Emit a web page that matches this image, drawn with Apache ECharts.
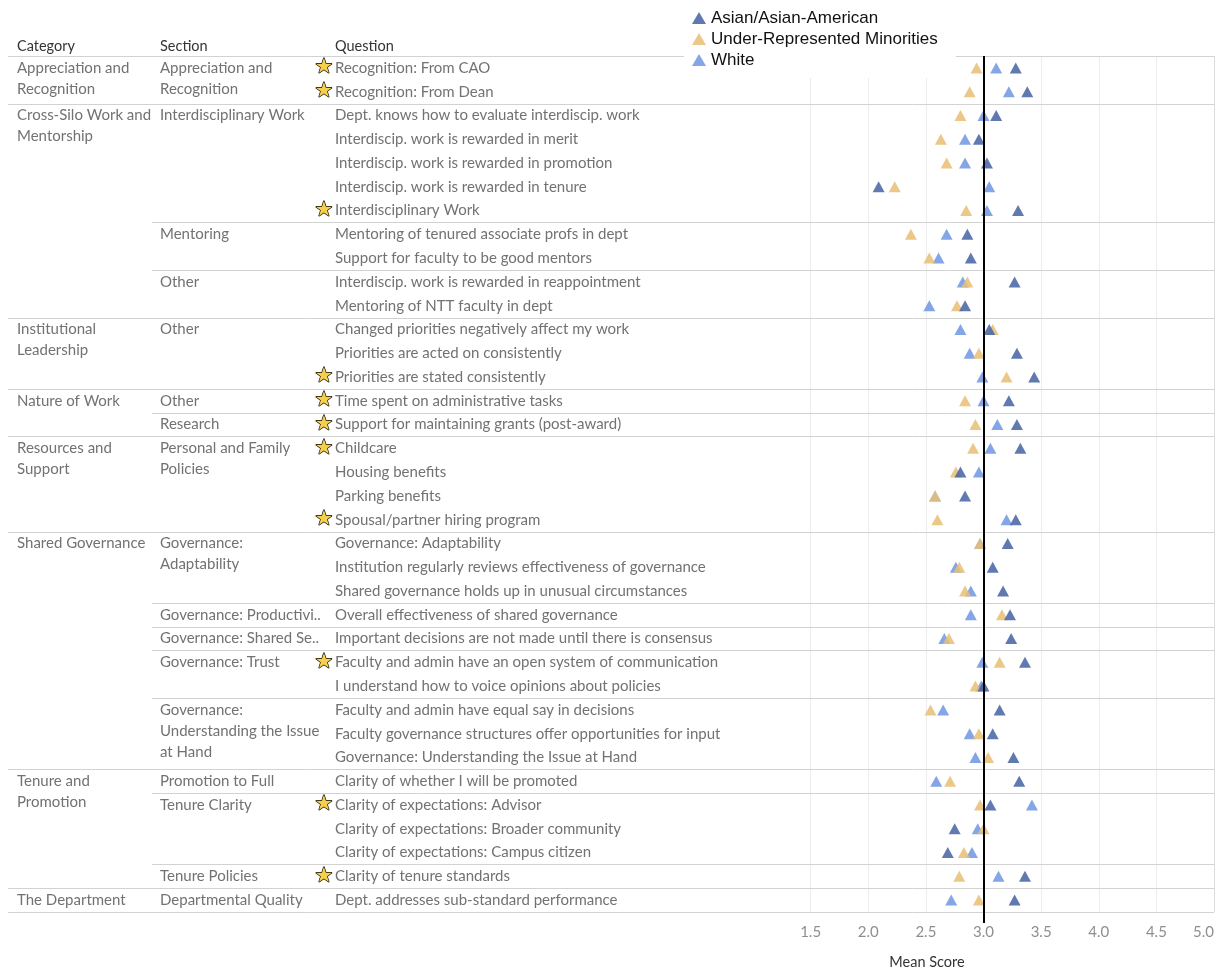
<!DOCTYPE html>
<html><head><meta charset="utf-8">
<script src="https://cdn.jsdelivr.net/npm/echarts@6/dist/echarts.min.js"></script>
<style>html,body{margin:0;padding:0;background:#fff}#c{width:1221px;height:969px}</style>
</head><body><div id="c"></div>
<script>
const questions = [
  "Recognition: From CAO",
  "Recognition: From Dean",
  "Dept. knows how to evaluate interdiscip. work",
  "Interdiscip. work is rewarded in merit",
  "Interdiscip. work is rewarded in promotion",
  "Interdiscip. work is rewarded in tenure",
  "Interdisciplinary Work",
  "Mentoring of tenured associate profs in dept",
  "Support for faculty to be good mentors",
  "Interdiscip. work is rewarded in reappointment",
  "Mentoring of NTT faculty in dept",
  "Changed priorities negatively affect my work",
  "Priorities are acted on consistently",
  "Priorities are stated consistently",
  "Time spent on administrative tasks",
  "Support for maintaining grants (post-award)",
  "Childcare",
  "Housing benefits",
  "Parking benefits",
  "Spousal/partner hiring program",
  "Governance: Adaptability",
  "Institution regularly reviews effectiveness of governance",
  "Shared governance holds up in unusual circumstances",
  "Overall effectiveness of shared governance",
  "Important decisions are not made until there is consensus",
  "Faculty and admin have an open system of communication",
  "I understand how to voice opinions about policies",
  "Faculty and admin have equal say in decisions",
  "Faculty governance structures offer opportunities for input",
  "Governance: Understanding the Issue at Hand",
  "Clarity of whether I will be promoted",
  "Clarity of expectations: Advisor",
  "Clarity of expectations: Broader community",
  "Clarity of expectations: Campus citizen",
  "Clarity of tenure standards",
  "Dept. addresses sub-standard performance"
];
const starred = [1,1,0,0,0,0,1,0,0,0,0,0,0,1,1,1,1,0,0,1,0,0,0,0,0,1,0,0,0,0,0,1,0,0,1,0];
const asian = [3.28,3.38,3.11,2.96,3.03,2.09,3.30,2.86,2.89,3.27,2.84,3.05,3.29,3.44,3.22,3.29,3.32,2.80,2.84,3.28,3.21,3.08,3.17,3.23,3.24,3.36,3.00,3.14,3.08,3.26,3.31,3.06,2.75,2.69,3.36,3.27];
const urm   = [2.94,2.88,2.80,2.63,2.68,2.23,2.85,2.37,2.53,2.86,2.77,3.08,2.96,3.20,2.84,2.93,2.91,2.76,2.58,2.60,2.97,2.79,2.84,3.16,2.70,3.14,2.93,2.54,2.96,3.04,2.71,2.97,3.00,2.83,2.79,2.96];
const white = [3.11,3.22,3.00,2.84,2.84,3.05,3.03,2.68,2.61,2.82,2.53,2.80,2.88,2.99,3.00,3.12,3.06,2.96,2.58,3.20,2.97,2.76,2.89,2.89,2.66,2.99,2.98,2.65,2.88,2.93,2.59,3.42,2.95,2.90,3.13,2.72];
const categoryNames = ["Appreciation and\nRecognition","Cross-Silo Work and\nMentorship","Institutional\nLeadership","Nature of Work","Resources and\nSupport","Shared Governance","Tenure and\nPromotion","The Department"];
const categoryRows = [2,9,3,2,4,10,5,1];
const sectionNames = ["Appreciation and\nRecognition","Interdisciplinary Work","Mentoring","Other","Other","Other","Research","Personal and Family\nPolicies","Governance:\nAdaptability","Governance: Productivi..","Governance: Shared Se..","Governance: Trust","Governance:\nUnderstanding the Issue\nat Hand","Promotion to Full","Tenure Clarity","Tenure Policies","Departmental Quality"];
const sectionRows = [2,5,2,2,3,1,1,4,3,1,1,2,3,1,3,1,1];
const headers = ["Category","Section","Question"];
const seriesNames = ["Asian/Asian-American","Under-Represented Minorities","White"];
const axisMin = 1.0, axisMax = 5.0, axisStep = 0.5, firstShownTick = 1.5, refValue = 3.0;

const FONT = 'Lato';
const chart = echarts.init(document.getElementById('c'));
function tri(name, vals, color) {
  return {
    type: 'scatter', name: name,
    data: vals.map((v, i) => [v, i]),
    symbol: 'triangle', symbolSize: [12, 11],
    itemStyle: { color: color, opacity: 0.88 },
    emphasis: { disabled: true }
  };
}
chart.setOption({
  animation: false,
  grid: { left: 753, right: 7, top: 56, bottom: 57 },
  xAxis: {
    type: 'value', min: axisMin, max: axisMax, interval: axisStep,
    axisLine: { show: false }, axisTick: { show: false },
    splitLine: { show: true, showMinLine: false, showMaxLine: false, lineStyle: { color: '#ededed', width: 1 } },
    axisLabel: { formatter: v => v < firstShownTick ? '' : v.toFixed(1), color: '#8f8f8f', fontFamily: FONT, fontSize: 15, margin: 13, alignMaxLabel: 'right' }
  },
  yAxis: {
    type: 'category', data: questions, inverse: true,
    axisLine: { show: false }, axisTick: { show: false }, axisLabel: { show: false }, splitLine: { show: false }
  },
  legend: {
    data: seriesNames, orient: 'vertical', left: 684, top: 0,
    backgroundColor: '#ffffff', padding: [8, 18, 8, 8], itemGap: 1,
    itemWidth: 14, itemHeight: 12, icon: 'triangle', z: 20,
    textStyle: { fontFamily: 'Liberation Sans', fontSize: 17, color: '#111', lineHeight: 20 },
    selectedMode: false
  },
  series: [
    tri(seriesNames[2], white, '#739ae4'),
    tri(seriesNames[1], urm, '#e8c078'),
    tri(seriesNames[0], asian, '#4a68a6')
  ]
});

const yc = i => chart.convertToPixel({ yAxisIndex: 0 }, i);
const xp = v => chart.convertToPixel({ xAxisIndex: 0 }, v);
const rh = yc(1) - yc(0);
const topY = yc(0) - rh / 2;
const botY = yc(questions.length - 1) + rh / 2;
const rightX = xp(axisMax);
const gfx = [];
const txtColor = '#727272';
function hline(y, x0) {
  gfx.push({ type: 'line', z: 5, shape: { x1: x0, y1: Math.round(y) + 0.5, x2: rightX, y2: Math.round(y) + 0.5 }, style: { stroke: '#d2d2d2', lineWidth: 1 } });
}
function txt(x, y, s, color, valign, size) {
  gfx.push({ type: 'text', z: 6, x: x, y: y, style: { text: s, fill: color, font: (size || 15) + 'px ' + FONT, textVerticalAlign: valign, lineHeight: 21 } });
}
// headers
const colX = [17, 160, 335];
headers.forEach((h, k) => txt(colX[k], 46, h, '#333333', 'middle', 14.5));
hline(topY, 8);
hline(botY, 8);
// right border
gfx.push({ type: 'line', z: 5, shape: { x1: Math.round(rightX) + 0.5, y1: topY, x2: Math.round(rightX) + 0.5, y2: botY }, style: { stroke: '#dcdcdc', lineWidth: 1 } });
// categories
let r = 0;
const catStarts = new Set();
categoryNames.forEach((name, k) => {
  if (r > 0) { hline(yc(r) - rh / 2, 8); catStarts.add(r); }
  txt(colX[0], yc(r) - 10.5, name, txtColor, 'top');
  r += categoryRows[k];
});
// sections
r = 0;
sectionNames.forEach((name, k) => {
  if (r > 0 && !catStarts.has(r)) hline(yc(r) - rh / 2, 152);
  txt(colX[1], yc(r) - 10.5, name, txtColor, 'top');
  r += sectionRows[k];
});
// questions + stars
questions.forEach((q, i) => {
  txt(colX[2], yc(i), q, txtColor, 'middle');
  if (starred[i]) {
    gfx.push({ type: 'text', z: 7, x: 324, y: yc(i), style: { text: '\u2605', fill: '#f6cf4c', stroke: '#000', lineWidth: 1.3, font: '21px DejaVu Sans', textAlign: 'center', textVerticalAlign: 'middle' } });
  }
});
// reference line at 3.0
const rx = Math.round(xp(refValue));
gfx.push({ type: 'line', z: 8, shape: { x1: rx, y1: topY, x2: rx, y2: botY + 11 }, style: { stroke: '#000', lineWidth: 2 } });
// axis title
gfx.push({ type: 'text', z: 6, x: 927, y: 962, style: { text: 'Mean Score', fill: '#333', font: '14.5px ' + FONT, textAlign: 'center', textVerticalAlign: 'middle' } });
chart.setOption({ graphic: { elements: gfx } });
</script>
</body></html>
